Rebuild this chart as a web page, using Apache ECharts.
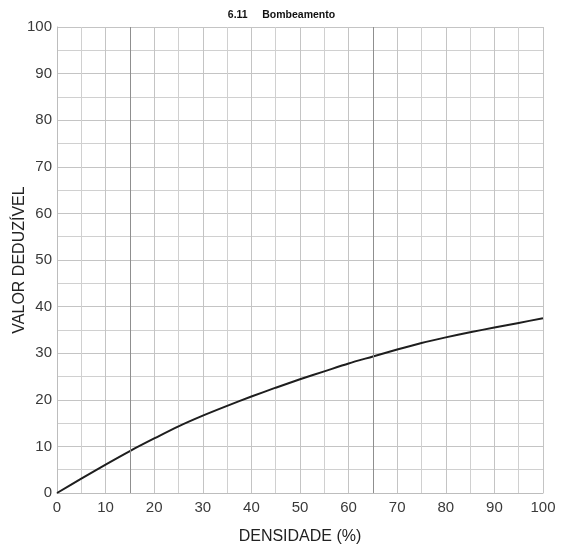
<!DOCTYPE html>
<html>
<head>
<meta charset="utf-8">
<script src="https://cdn.jsdelivr.net/npm/echarts@6/dist/echarts.min.js"></script>
<style>
  html, body { margin: 0; padding: 0; background: #fff; }
  #chart_content { width: 563px; height: 554px; }
</style>
</head>
<body>
<div id="chart_content"></div>
<script>
// densidade (%) e valor deduzível
const densidade = [0, 5, 10, 15, 20, 25, 30, 35, 40, 45, 50, 55, 60, 65, 70, 75, 80, 85, 90, 95, 100];
const valorDeduzivel = [0, 3.1, 6.1, 9.0, 11.7, 14.3, 16.6, 18.7, 20.7, 22.6, 24.4, 26.1, 27.8, 29.3, 30.8, 32.2, 33.4, 34.5, 35.5, 36.5, 37.5];
const linhasEscuras = [15, 65];

let chart = echarts.init(document.getElementById('chart_content'));
let gridLine = { lineStyle: { color: '#c4c4c4', width: 1 } };
let axisText = { color: '#3a3a3a', fontSize: 15, fontFamily: 'Liberation Sans, Arial, sans-serif' };
let nameText = { color: '#222', fontSize: 16, fontFamily: 'Liberation Sans, Arial, sans-serif' };

chart.setOption({
    animation: false,
    title: {
        text: '6.11     Bombeamento',
        left: 'center',
        top: 5,
        textStyle: { fontSize: 10.5, fontWeight: 'bold', color: '#111', fontFamily: 'Liberation Sans, Arial, sans-serif' }
    },
    grid: { left: 57, right: 20, top: 27, bottom: 61, outerBoundsMode: 'none', containLabel: false },
    xAxis: {
        type: 'value',
        min: 0, max: 100, interval: 10,
        name: 'DENSIDADE (%)',
        nameLocation: 'middle',
        nameGap: 36,
        nameMoveOverlap: false,
        nameTextStyle: nameText,
        axisLine: { show: true, lineStyle: { color: '#bdbdbd' } },
        axisTick: { show: false },
        axisLabel: Object.assign({ margin: 7 }, axisText),
        splitLine: gridLine,
        minorTick: { show: false, splitNumber: 2 },
        minorSplitLine: { show: true, lineStyle: { color: '#d0d0d0', width: 1 } }
    },
    yAxis: {
        type: 'value',
        min: 0, max: 100, interval: 10,
        name: 'VALOR DEDUZÍVEL',
        nameLocation: 'middle',
        nameGap: 29,
        nameMoveOverlap: false,
        nameTextStyle: nameText,
        axisLine: { show: true, lineStyle: { color: '#bdbdbd' } },
        axisTick: { show: false },
        axisLabel: Object.assign({ margin: 5 }, axisText),
        splitLine: gridLine,
        minorTick: { show: false, splitNumber: 2 },
        minorSplitLine: { show: true, lineStyle: { color: '#d0d0d0', width: 1 } }
    },
    series: [
        {
            type: 'line',
            data: densidade.map((d, i) => [d, valorDeduzivel[i]]),
            smooth: 0.3,
            showSymbol: false,
            lineStyle: { color: '#1e1e1e', width: 2 },
            markLine: {
                silent: true,
                symbol: 'none',
                label: { show: false },
                lineStyle: { color: '#8f8f8f', width: 1, type: 'solid' },
                data: linhasEscuras.map(v => ({ xAxis: v }))
            }
        }
    ]
});
</script>
</body>
</html>
